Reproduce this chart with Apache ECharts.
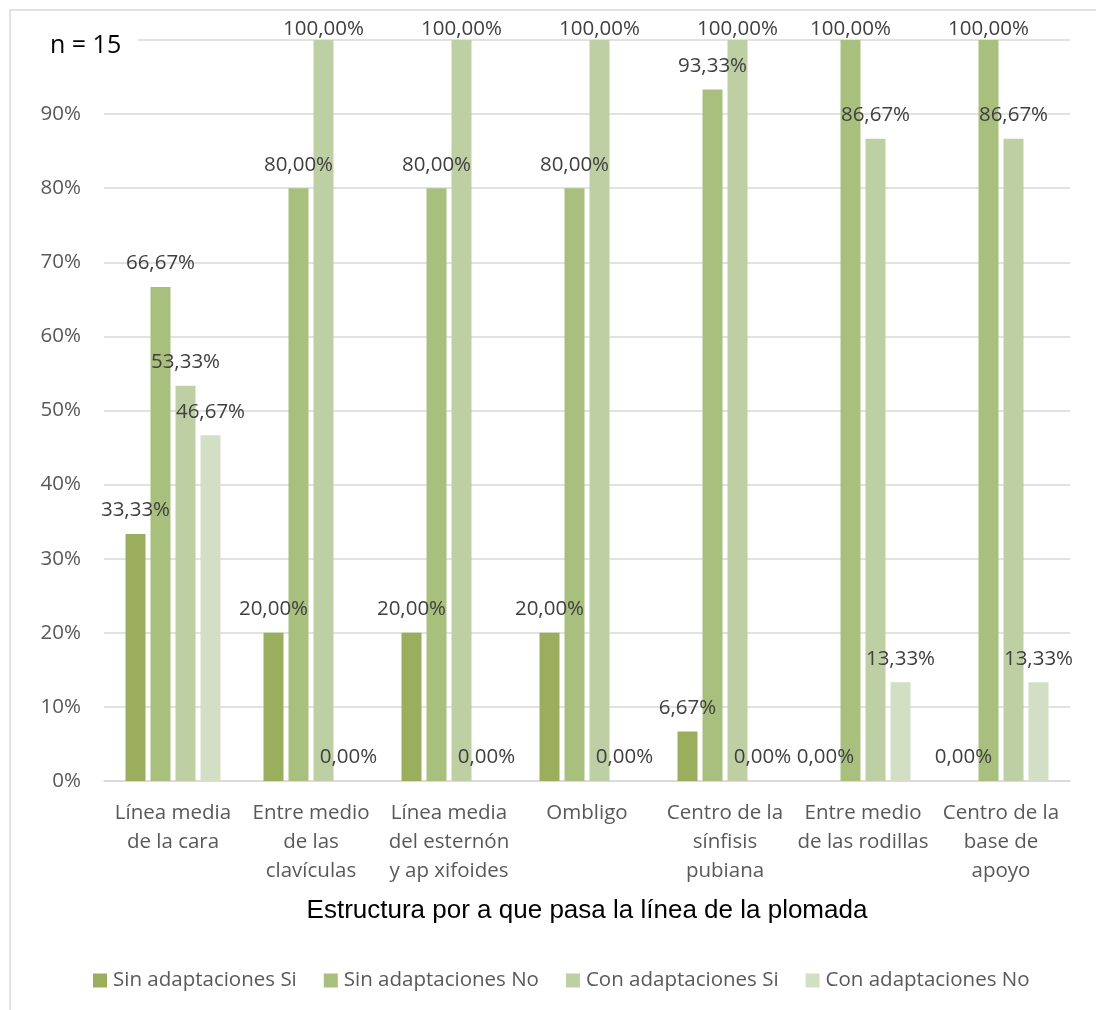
<!DOCTYPE html>
<html><head><meta charset="utf-8">
<script src="https://cdn.jsdelivr.net/npm/echarts@6/dist/echarts.min.js"></script>
<style>html,body{margin:0;padding:0;background:#fff}#c{width:1096px;height:1010px}</style>
</head><body><div id="c"></div>
<script>
const categories = ['Línea media\nde la cara','Entre medio\nde las\nclavículas','Línea media\ndel esternón\ny ap xifoides','Ombligo','Centro de la\nsínfisis\npubiana','Entre medio\nde las rodillas','Centro de la\nbase de\napoyo'];
const seriesNames = ['Sin adaptaciones Si','Sin adaptaciones No','Con adaptaciones Si','Con adaptaciones No'];
const sinSi = [33.33, 20, 20, 20, 6.67, 0, 0];
const sinNo = [66.67, 80, 80, 80, 93.33, 100, 100];
const conSi = [53.33, 100, 100, 100, 100, 86.67, 86.67];
const conNo = [46.67, 0, 0, 0, 0, 13.33, 13.33];
const yTicks = [0,10,20,30,40,50,60,70,80,90,100];
const colors = ['#9bae5d','#a9bf7e','#bfcfa4','#d3dfc4'];
const font = '"Open Sans", sans-serif';
const fs = 20.5;

const chart = echarts.init(document.getElementById('c'));
const mk = (name, data, i) => ({
  name, type: 'bar', barWidth: 20, barGap: '25%',
  data: data.map(v => v >= 100 ? { value: v, label: { distance: 0 } } : v),
  itemStyle: { color: colors[i] },
  label: { show: true, position: 'top', distance: 13, fontFamily: font, fontSize: fs, color: '#404040',
    formatter: p => p.value.toFixed(2).replace('.', ',') + '%' }
});
chart.setOption({
  animation: false,
  color: colors,
  grid: { left: 104, right: 26, top: 40, bottom: 229, containLabel: false },
  xAxis: {
    type: 'category', data: categories,
    axisLine: { lineStyle: { color: '#d9d9d9', width: 1.5 } },
    axisTick: { show: false },
    axisLabel: { fontFamily: font, fontSize: fs, color: '#595959', lineHeight: 29, margin: 18, interval: 0 },
    name: 'Estructura por a que pasa la línea de la plomada',
    nameLocation: 'middle', nameGap: 117,
    nameTextStyle: { fontFamily: '"Liberation Sans", Arial, sans-serif', fontSize: 26, color: '#000' }
  },
  yAxis: {
    type: 'value', min: yTicks[0], max: yTicks[yTicks.length-1], interval: 10,
    axisLine: { show: false }, axisTick: { show: false },
    splitLine: { lineStyle: { color: '#d9d9d9', width: 1.5 } },
    axisLabel: { fontFamily: font, fontSize: fs, color: '#595959', margin: 23, formatter: '{value}%' }
  },
  legend: {
    data: seriesNames, bottom: 14, left: 88, itemWidth: 14, itemHeight: 14, itemGap: 27,
    icon: 'rect',
    textStyle: { fontFamily: font, fontSize: fs, color: '#595959', padding: [0,0,0,1] }
  },
  series: [mk(seriesNames[0], sinSi, 0), mk(seriesNames[1], sinNo, 1), mk(seriesNames[2], conSi, 2), mk(seriesNames[3], conNo, 3)],
  graphic: [
    { type: 'rect', z: 100, shape: { x: 30, y: 22, width: 108, height: 40 }, style: { fill: '#fff' } },
    { type: 'text', z: 101, left: 50, top: 33, style: { text: 'n = 15', fontFamily: font, fontSize: 25, fill: '#000' } },
    { type: 'rect', z: 0, silent: true, shape: { x: 10, y: 10, width: 1300, height: 1300 }, style: { fill: 'none', stroke: '#d9d9d9', lineWidth: 1.5 } }
  ]
});
</script></body></html>
